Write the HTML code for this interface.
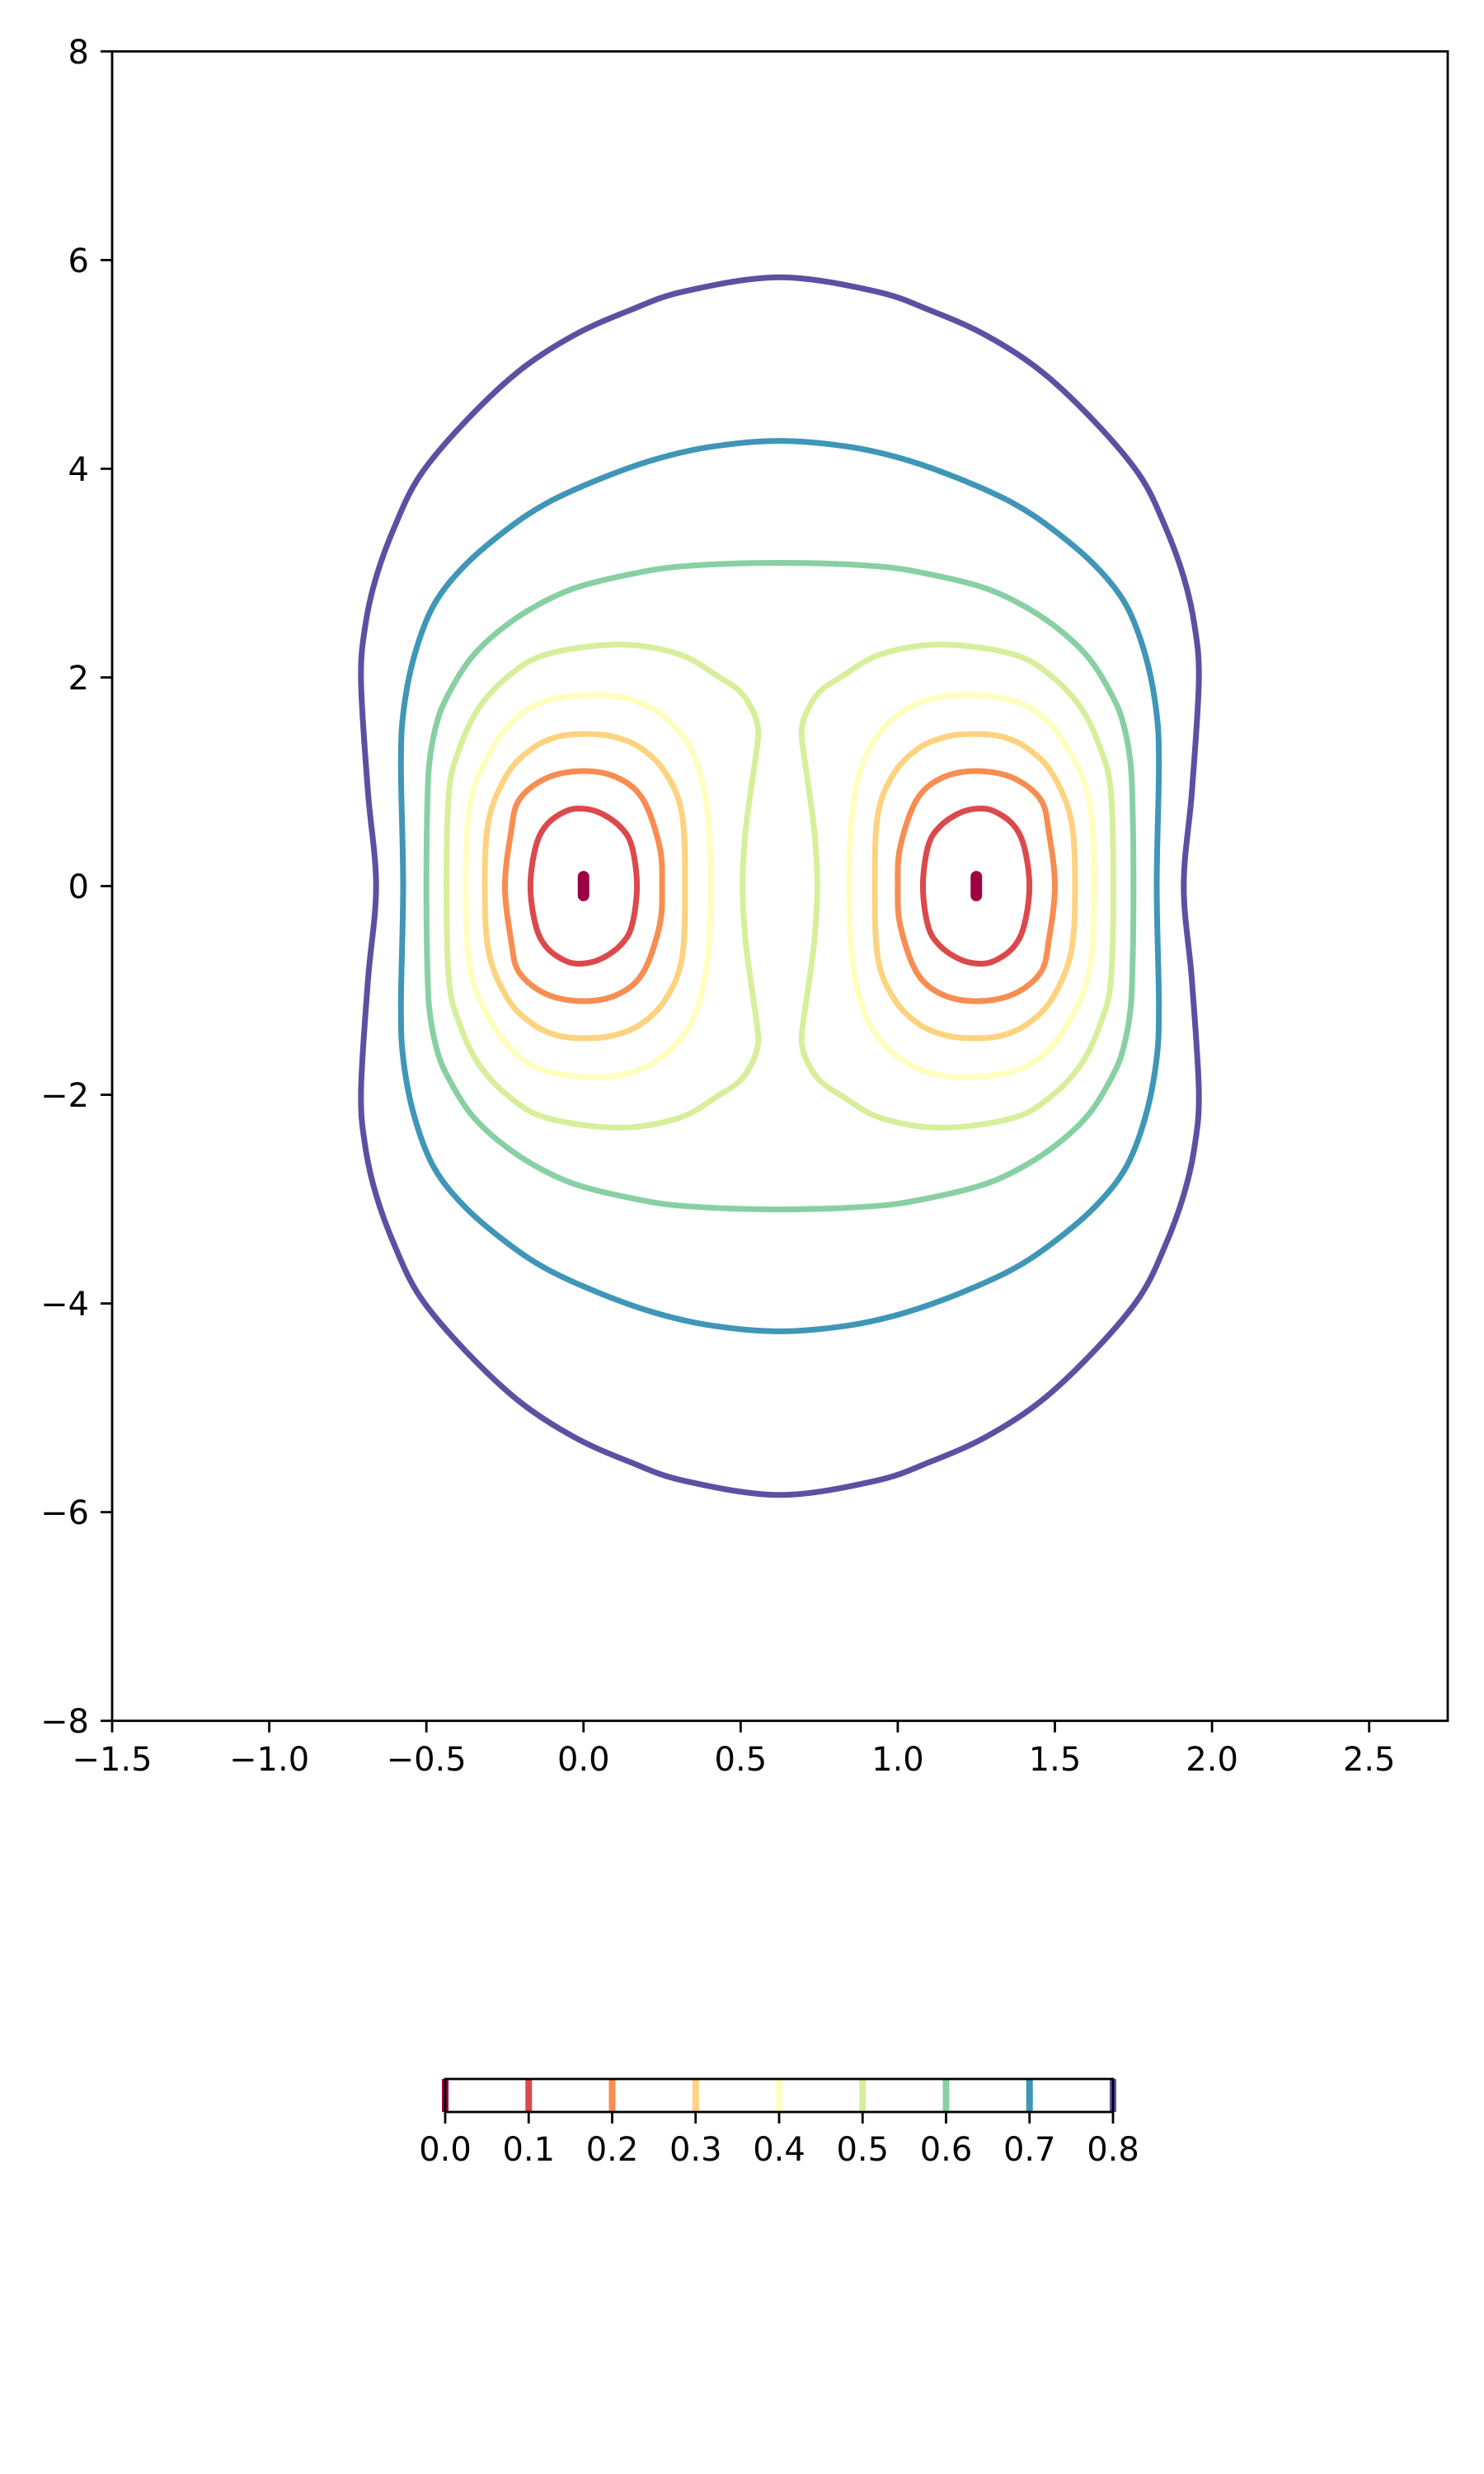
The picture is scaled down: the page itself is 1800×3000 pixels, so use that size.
<!DOCTYPE html>
<html><head><meta charset="utf-8"><style>
html,body{margin:0;padding:0;background:#fff;}
svg{display:block;font-family:"DejaVu Sans","Liberation Sans",sans-serif;}
</style></head><body>
<svg id="chart" width="1800" height="3000" viewBox="0 0 1800 3000" xmlns="http://www.w3.org/2000/svg">
<rect x="0" y="0" width="1800" height="3000" fill="#fff"/>
<g id="contours"></g>
<g id="axes"></g>
<g id="cbar"></g>
</svg>
<script>
const levels = [0.0,0.1,0.2,0.3,0.4,0.5,0.6,0.7,0.8];
const colors = ["#9e0142","#dc494c","#f88d51","#fdd380","#feffbe","#d7ef9b","#88d0a4","#3f96b7","#5e4fa2"];
const xTicks = [-1.5,-1.0,-0.5,0.0,0.5,1.0,1.5,2.0,2.5];
const yTicks = [-8,-6,-4,-2,0,2,4,6,8];
const cbarTicks = [0.0,0.1,0.2,0.3,0.4,0.5,0.6,0.7,0.8];
const sourceX = [0.0,1.25];
const symX = 0.625;
// outer levels: upper-left quadrant points (x,y), from y=0 up to top center
const outer08 = [[-0.66,0],[-0.686,0.905],[-0.708,1.959],[-0.695,2.486],[-0.66,2.96],[-0.599,3.46],[-0.52,3.936],[-0.38,4.44],[-0.205,4.937],[-0.03,5.28],[0.146,5.517],[0.321,5.70],[0.625,5.835]];
const outer07 = [[-0.574,0],[-0.581,1.168],[-0.572,1.695],[-0.537,2.222],[-0.476,2.696],[-0.38,3.066],[-0.248,3.408],[-0.117,3.67],[0.058,3.909],[0.233,4.094],[0.409,4.212],[0.625,4.267]];
const outer06 = [[-0.5,0],[-0.498,0.642],[-0.491,1.168],[-0.467,1.563],[-0.432,1.827],[-0.362,2.17],[-0.274,2.433],[-0.16,2.67],[-0.029,2.855],[0.146,2.987],[0.321,3.066],[0.625,3.098]];
// lobe levels: upper half of left lobe, left (y=0) to right (y=0)
const lobe05 = [[-0.436,0],[-0.428,0.905],[-0.397,1.3],[-0.336,1.695],[-0.239,2.012],[-0.117,2.222],[0.111,2.315],[0.304,2.222],[0.427,2.012],[0.497,1.867],[0.536,1.695],[0.554,1.537],[0.554,1.379],[0.532,0.905],[0.515,0.51],[0.506,0]];
const lobe04 = [[-0.375,0],[-0.362,0.773],[-0.309,1.221],[-0.222,1.59],[-0.117,1.775],[0.041,1.832],[0.164,1.775],[0.269,1.59],[0.348,1.274],[0.392,0.773],[0.405,0]];
const lobe03 = [[-0.314,0],[-0.301,0.642],[-0.239,1.09],[-0.16,1.326],[-0.082,1.432],[0.006,1.458],[0.094,1.432],[0.181,1.326],[0.26,1.09],[0.313,0.694],[0.323,0]];
const lobe02 = [[-0.25,0],[-0.231,0.51],[-0.205,0.826],[-0.117,1.037],[0,1.103],[0.11,1.037],[0.19,0.826],[0.242,0.378],[0.25,0]];
const lobe01 = [[-0.169,0],[-0.152,0.378],[-0.117,0.589],[-0.055,0.72],[0,0.742],[0.058,0.694],[0.119,0.562],[0.154,0.378],[0.17,0]];
const lobe00 = [[0,-0.09],[0,0.09]];

const NS="http://www.w3.org/2000/svg";
const AX={x0:136,x1:1756,y0:62.3,y1:2086.7,xmin:-1.5,xmax:2.75,ymin:-8,ymax:8};
function sx(v){return AX.x0+(v-AX.xmin)/(AX.xmax-AX.xmin)*(AX.x1-AX.x0);}
function sy(v){return AX.y1-(v-AX.ymin)/(AX.ymax-AX.ymin)*(AX.y1-AX.y0);}
const CB={x0:540,x1:1350,y0:2521,y1:2561,vmin:0,vmax:0.8};
function cx(v){return CB.x0+(v-CB.vmin)/(CB.vmax-CB.vmin)*(CB.x1-CB.x0);}
function mk(tag,attrs,parent){const e=document.createElementNS(NS,tag);for(const k in attrs)e.setAttribute(k,attrs[k]);parent.appendChild(e);return e;}
function dedupe(pts){
  const out=[];
  pts.forEach(p=>{const l=out[out.length-1];if(!l||Math.abs(l[0]-p[0])>1e-6||Math.abs(l[1]-p[1])>1e-6)out.push(p);});
  const f=out[0],l=out[out.length-1];
  if(out.length>2&&Math.abs(f[0]-l[0])<1e-6&&Math.abs(f[1]-l[1])<1e-6)out.pop();
  return out;
}
function smoothClosed(pts){
  const P=dedupe(pts).map(p=>[sx(p[0]),sy(p[1])]);
  const n=P.length;
  let d="M"+P[0][0].toFixed(2)+" "+P[0][1].toFixed(2);
  for(let i=0;i<n;i++){
    const p0=P[(i-1+n)%n],p1=P[i],p2=P[(i+1)%n],p3=P[(i+2)%n];
    const c1=[p1[0]+(p2[0]-p0[0])/6,p1[1]+(p2[1]-p0[1])/6];
    const c2=[p2[0]-(p3[0]-p1[0])/6,p2[1]-(p3[1]-p1[1])/6];
    d+=" C"+c1[0].toFixed(2)+" "+c1[1].toFixed(2)+" "+c2[0].toFixed(2)+" "+c2[1].toFixed(2)+" "+p2[0].toFixed(2)+" "+p2[1].toFixed(2);
  }
  return d+" Z";
}
function pathFrom(pts){return pts.map((p,i)=>(i?"L":"M")+sx(p[0]).toFixed(2)+" "+sy(p[1]).toFixed(2)).join(" ");}

const gC=document.getElementById('contours');
function outerPath(q){
  const right=q.slice().reverse().map(p=>[2*symX-p[0],p[1]]);
  const upper=q.concat(right);
  const lower=upper.slice().reverse().map(p=>[p[0],-p[1]]);
  return upper.concat(lower);
}
function lobePath(u,mirror){
  let pts=u.concat(u.slice().reverse().map(p=>[p[0],-p[1]]));
  if(mirror) pts=pts.map(p=>[2*symX-p[0],p[1]]);
  return pts;
}
const outerSets=[[outer06,6],[outer07,7],[outer08,8]];
outerSets.forEach(([q,li])=>{
  const p=mk('path',{d:smoothClosed(outerPath(q)),fill:'none',stroke:colors[li],'stroke-width':7,'stroke-linejoin':'round'},gC);
  
  
});
const lobeSets=[[lobe01,1],[lobe02,2],[lobe03,3],[lobe04,4],[lobe05,5]];
lobeSets.forEach(([u,li])=>{
  [false,true].forEach(m=>{
    const p=mk('path',{d:smoothClosed(lobePath(u,m)),fill:'none',stroke:colors[li],'stroke-width':7,'stroke-linejoin':'round'},gC);
    
    
  });
});
sourceX.forEach((s,i)=>{
  const pts=lobe00.map(p=>[p[0]+s,p[1]]);
  const p=mk('path',{d:pathFrom(pts),fill:'none',stroke:colors[0],'stroke-width':14,'stroke-linecap':'round'},gC);
  
  
});

const gA=document.getElementById('axes');
const frame=mk('rect',{x:AX.x0,y:AX.y0,width:AX.x1-AX.x0,height:AX.y1-AX.y0,fill:'none',stroke:'#000','stroke-width':2.8},gA);


function fmt(v,d){const s=Math.abs(v).toFixed(d);return (v<0?"\u2212":"")+s;}
xTicks.forEach(v=>{
  const x=sx(v);
  const t=mk('line',{x1:x,x2:x,y1:AX.y1,y2:AX.y1+14,stroke:'#000','stroke-width':2.8},gA);
  
  
  const l=mk('text',{x:x,y:2147,'text-anchor':'middle','font-size':40,fill:'#000'},gA);
  l.textContent=fmt(v,1);
  
  
});
yTicks.forEach(v=>{
  const y=sy(v);
  const t=mk('line',{x1:AX.x0-14,x2:AX.x0,y1:y,y2:y,stroke:'#000','stroke-width':2.8},gA);
  
  
  const l=mk('text',{x:AX.x0-28,y:y+14.5,'text-anchor':'end','font-size':40,fill:'#000'},gA);
  l.textContent=fmt(v,0);
  
  
});

const gB=document.getElementById('cbar');
levels.forEach((v,i)=>{
  const x=cx(v);
  const ln=mk('line',{x1:x,x2:x,y1:CB.y0,y2:CB.y1,stroke:colors[i],'stroke-width':8},gB);
  
  
});
const cf=mk('rect',{x:CB.x0,y:CB.y0,width:CB.x1-CB.x0,height:CB.y1-CB.y0,fill:'none',stroke:'#000','stroke-width':2.8},gB);


cbarTicks.forEach(v=>{
  const x=cx(v);
  const t=mk('line',{x1:x,x2:x,y1:CB.y1,y2:CB.y1+14,stroke:'#000','stroke-width':2.8},gB);
  
  
  const l=mk('text',{x:x,y:2620,'text-anchor':'middle','font-size':40,fill:'#000'},gB);
  l.textContent=v.toFixed(1);
  
  
});
</script>
</body></html>
